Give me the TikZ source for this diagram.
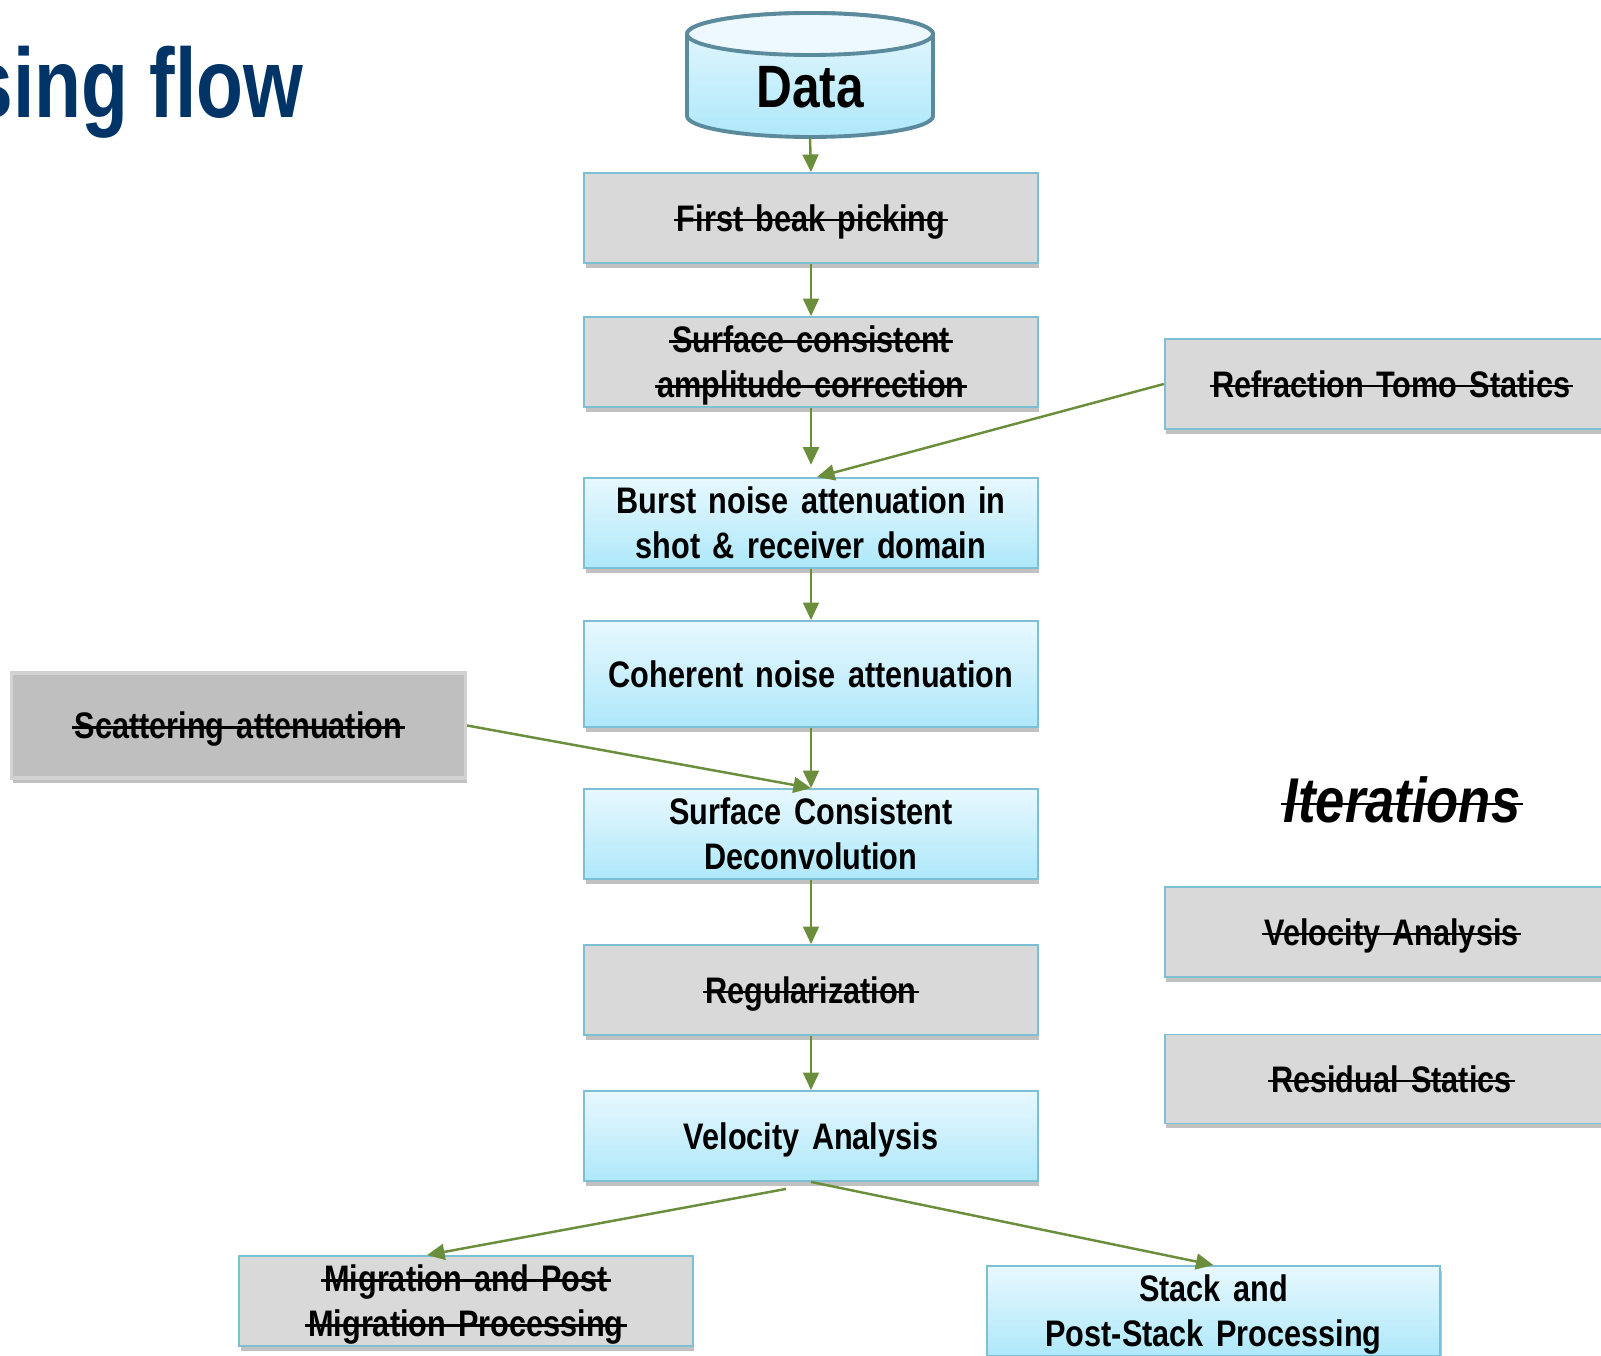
\documentclass[tikz,border=0pt]{standalone}
\usepackage{fontspec}
\setmainfont{Liberation Sans}[FakeStretch=0.83, WordSpace=0.72]
\newfontfamily\titlefont{Liberation Sans}[FakeStretch=0.78]
\usepackage{tikz}
\usetikzlibrary{arrows.meta,shadows}

\definecolor{flowgreen}{HTML}{6B8E3D}
\definecolor{boxedge}{HTML}{7DC0D6}
\definecolor{boxgrey}{HTML}{D9D9D9}
\definecolor{scatgrey}{HTML}{BFBFBF}
\definecolor{scatedge}{HTML}{D2D2D2}
\definecolor{cyantop}{HTML}{E8F8FE}
\definecolor{cyanbot}{HTML}{AEE8FA}
\definecolor{drumedge}{HTML}{5A8A9C}
\definecolor{titleblue}{HTML}{003366}

\newcommand{\boxfont}{\fontsize{10.5}{12.8}\selectfont\bfseries}
\newcommand{\boxstrut}{\rule[-2.5pt]{0pt}{12.5pt}}
\newsavebox{\strikebox}
\newcommand{\strike}[1]{\leavevmode\sbox{\strikebox}{#1}\rlap{\hspace{-0.8pt}\rule[0.52ex]{\dimexpr\wd\strikebox+1.6pt\relax}{0.7pt}}\usebox{\strikebox}}

\begin{document}
\begin{tikzpicture}[x=0.01cm, y=0.01cm,
    box/.style={rectangle, draw=boxedge, line width=0.5pt, minimum width=4.47cm, minimum height=0.9cm, inner ysep=0pt, text width=4.3cm, align=center, font=\boxfont,
        execute at begin node=\boxstrut, execute at end node=\boxstrut,
        drop shadow={shadow xshift=0.4pt, shadow yshift=-1.3pt, opacity=0.35, fill=black!70}},
    greybox/.style={box, fill=boxgrey},
    bluebox/.style={box, top color=cyantop, bottom color=cyanbot},
    scatbox/.style={box, fill=scatgrey, draw=scatedge, line width=1pt, minimum height=1.05cm},
    arrow/.style={-{Triangle[length=5pt,width=4.5pt]}, draw=flowgreen, fill=flowgreen, line width=0.7pt}
]
    \useasboundingbox (0,0) rectangle (1601,-1355);

    \node[anchor=base east, text=titleblue, font=\titlefont\fontsize{28}{33}\selectfont\bfseries] (title) at (316,-118) {sing flow};

    % data drum
    \shade[top color=cyantop, bottom color=cyanbot, draw=drumedge, line width=1.1pt]
        (687,-34) -- (687,-116) arc (180:360:123 and 21) -- (933,-34) arc (0:180:123 and 21) -- cycle;
    \draw[fill=cyantop!80!white, draw=drumedge, line width=1.1pt] (810,-34) ellipse (123 and 21);
    \node[minimum width=2.46cm, minimum height=1.24cm, text height=0.65cm, text depth=0pt, font=\fontsize{17}{20}\selectfont\bfseries] (data) at (810,-75) {Data};

    \node[greybox] (first) at (811,-218) {\strike{First beak picking}};
    \node[greybox] (surfamp) at (811,-362) {\strike{Surface consistent}\\\strike{amplitude correction}};
    \node[bluebox] (burst) at (811,-523) {Burst noise attenuation in\\shot \& receiver domain};
    \node[bluebox, minimum height=1.06cm] (coherent) at (811,-674) {Coherent noise attenuation};
    \node[bluebox] (scd) at (811,-834) {Surface Consistent\\Deconvolution};
    \node[greybox] (reg) at (811,-990) {\strike{Regularization}};
    \node[bluebox] (va) at (811,-1136) {Velocity Analysis};

    \node[greybox] (refr) at (1391.5,-384) {\strike{Refraction Tomo Statics}};
    \node[scatbox] (scat) at (238.5,-725.5) {\strike{Scattering attenuation}};

    \node[font=\fontsize{18}{22}\selectfont\bfseries\itshape] (iter) at (1402,-800) {\strike{Iterations}};
    \node[greybox] (itervel) at (1391.5,-932) {\strike{Velocity Analysis}};
    \node[greybox, minimum height=0.89cm] (resid) at (1391.5,-1079) {\strike{Residual Statics}};

    \node[greybox] (migr) at (466,-1301) {\strike{Migration and Post}\\\strike{Migration Processing}};
    \node[bluebox] (stack) at (1213.5,-1311) {Stack and\\Post-Stack Processing};

    \draw[arrow] (data.south) -- (first.north);
    \draw[arrow] (first) -- (surfamp);
    \draw[arrow, shorten >=3.5pt] (surfamp) -- (burst);
    \draw[arrow] (refr.west) -- ([xshift=0.06cm]burst.north);
    \draw[arrow] (burst) -- (coherent);
    \draw[arrow] (coherent) -- (scd);
    \draw[arrow] (scat.east) -- (scd.north);
    \draw[arrow] (scd) -- (reg);
    \draw[arrow] (reg) -- (va);
    \draw[arrow] ([xshift=-0.25cm,yshift=-0.07cm]va.south) -- ([xshift=-0.39cm]migr.north);
    \draw[arrow] (va.south) -- (stack.north);
\end{tikzpicture}
\end{document}
